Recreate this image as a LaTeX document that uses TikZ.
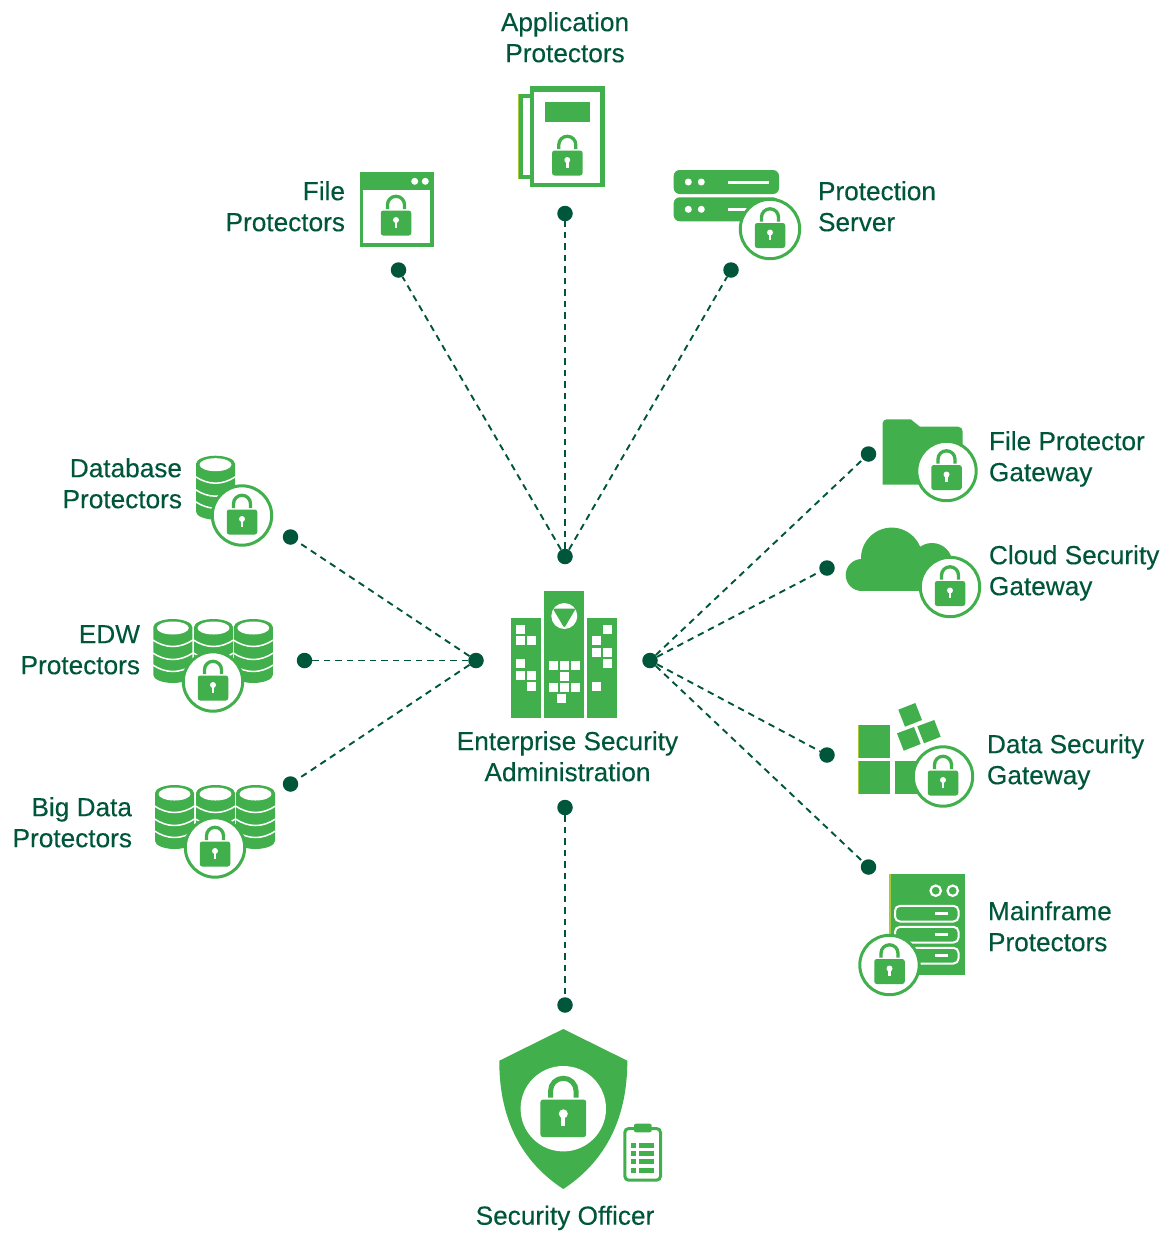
\documentclass[tikz,border=0pt]{standalone}
\usepackage{fontspec}
\setmainfont[FakeBold=0.25]{Liberation Sans}
\newcommand{\LL}[1]{\strut #1}
\definecolor{gr}{HTML}{41AF4B}
\definecolor{dk}{HTML}{00563A}
\definecolor{lime}{HTML}{A8C83A}
\tikzset{
  x=1pt,y=-1pt,
  dotnode/.style={circle,fill=dk,draw=none,minimum size=15.5pt,inner sep=0pt},
  conn/.style={draw=dk,line width=1.9pt,dash pattern=on 6.5pt off 5pt},
  lab/.style={text=dk,inner sep=0pt,outer sep=0pt,font=\fontsize{26.2}{31}\selectfont},
  labl/.style={lab,anchor=west,align=left},
  labr/.style={lab,anchor=east,align=right},
  labc/.style={lab,anchor=center,align=center},
  pics/padlock/.style={code={
    \fill[gr,rounded corners=2.5pt] (-15.25,-12.5) rectangle (15.25,12.5);
    \draw[gr,line width=#1] (-8.5,-13.8) -- (-8.5,-18.2) .. controls (-8.5,-23) and (-4.7,-26.7) .. (0,-26.7) .. controls (4.7,-26.7) and (8.5,-23) .. (8.5,-18.2) -- (8.5,-13.8);
    \fill[white] (0,-3) circle (3);
    \fill[white] (-1.3,-3) rectangle (1.3,4.8);
  }},
  pics/padlock/.default=3.3pt,
  pics/lockring/.style={code={
    \draw[gr,fill=white,line width=3pt] (0,0) circle (29.7);
    \pic at (0,6.5) {padlock};
  }},
  pics/cyl/.style={code={
    \fill[gr] (-19.5,8) -- (-19.5,56) .. controls (-19.5,60.5) and (-10,64) .. (0,64) .. controls (10,64) and (19.5,60.5) .. (19.5,56) -- (19.5,8) .. controls (19.5,3.5) and (10,0) .. (0,0) .. controls (-10,0) and (-19.5,3.5) .. (-19.5,8) -- cycle;
    \fill[white] (0,9) ellipse [x radius=16,y radius=6.5];
    \foreach \yy in {21,34,46}{
      \draw[white,line width=1.5pt] (-20,\yy) .. controls (-14,\yy+4) and (-7,\yy+6.5) .. (0,\yy+6.5) .. controls (7,\yy+6.5) and (14,\yy+4) .. (20,\yy);
    }
  }},
}
\begin{document}
\begin{tikzpicture}
\useasboundingbox (0,0) rectangle (1171,1235);

% ---------- connector end points
\node[dotnode] (tl) at (398.5,270) {};
\node[dotnode] (tc) at (565,213.5) {};
\node[dotnode] (tr) at (731,270) {};
\node[dotnode] (htop) at (565,556.5) {};
\node[dotnode] (ld) at (290.5,537) {};
\node[dotnode] (le) at (304.5,660.5) {};
\node[dotnode] (lb) at (290.5,784) {};
\node[dotnode] (hleft) at (476,660.5) {};
\node[dotnode] (rf) at (868.5,454) {};
\node[dotnode] (rc) at (827,568) {};
\node[dotnode] (rd) at (827,755) {};
\node[dotnode] (rm) at (868.5,867) {};
\node[dotnode] (hright) at (650,660.5) {};
\node[dotnode] (bt) at (565,807.5) {};
\node[dotnode] (bb) at (565,1005) {};

\draw[conn] (htop) -- (tl);
\draw[conn] (htop) -- (tc);
\draw[conn] (htop) -- (tr);
\draw[conn] (hleft) -- (ld);
\draw[conn] (hleft) -- (le);
\draw[conn] (hleft) -- (lb);
\draw[conn] (hright) -- (rf);
\draw[conn] (hright) -- (rc);
\draw[conn] (hright) -- (rd);
\draw[conn] (hright) -- (rm);
\draw[conn] (bt) -- (bb);

% ---------- labels
\node[labc] (lApp) at (565,40.5) {\LL{Application}\\\LL{Protectors}};
\node[labr] (lFile) at (345,209.5) {\LL{File}\\\LL{Protectors}};
\node[labl] (lSrv) at (818,209.5) {\LL{Protection}\\\LL{Server}};
\node[labr] (lDb) at (182,486.5) {\LL{Database}\\\LL{Protectors}};
\node[labr] (lEdw) at (140,652.5) {\LL{EDW}\\\LL{Protectors}};
\node[labr] (lBig) at (132,825.5) {\LL{Big Data}\\\LL{Protectors}};
\node[labc] (lEnt) at (567.5,759.5) {\LL{Enterprise Security}\\\LL{Administration}};
\node[labl] (lFpg) at (989,459.5) {\LL{File Protector}\\\LL{Gateway}};
\node[labl] (lCsg) at (989,573.5) {\LL{Cloud Security}\\\LL{Gateway}};
\node[labl] (lDsg) at (987,762.5) {\LL{Data Security}\\\LL{Gateway}};
\node[labl] (lMf) at (988,929.5) {\LL{Mainframe}\\\LL{Protectors}};
\node[labc] (lSo) at (565,1218.5) {\LL{Security Officer}};

% ---------- File Protectors icon
\fill[gr] (359.5,172) rectangle (434,247);
\fill[white] (363.3,190) rectangle (430,243.3);
\fill[white] (414.7,181.3) circle (3.5) (425.3,181.3) circle (3.5);
\pic at (396,223) {padlock};

% ---------- Application Protectors icon
\fill[gr] (518.3,94) rectangle (531,179);
\fill[white] (522.7,98) rectangle (531,174.7);
\fill[lime] (518.3,94) rectangle (519,179);
\fill[gr] (530,86) rectangle (605,187);
\fill[white] (534,91.7) rectangle (600,182.7);
\fill[gr] (545.3,102) rectangle (590,122);
\pic at (567.3,163) {padlock};

% ---------- Protection Server icon
\fill[gr,rounded corners=6pt] (673.7,170) rectangle (779,194);
\fill[gr,rounded corners=6pt] (673.7,197.3) rectangle (779,221.3);
\fill[white] (688.3,182) circle (3.5) (701.3,182) circle (3.5) (688.3,209.3) circle (3.5) (701.3,209.3) circle (3.5);
\fill[white] (728,180.5) rectangle (769,183.5);
\fill[white] (728,207.8) rectangle (769,210.8);
\pic at (770,229) {lockring};

% ---------- Database icons
\pic at (215.5,455.7) {cyl};
\pic at (242,515.5) {lockring};
\pic at (172.8,619) {cyl};
\pic at (253.3,619) {cyl};
\pic at (213.5,619) {cyl};
\pic at (213,681.5) {lockring};
\pic at (174.5,785) {cyl};
\pic at (255.5,785) {cyl};
\pic at (215.5,785) {cyl};
\pic at (215,847.5) {lockring};

% ---------- File Protector Gateway
\fill[gr] (882.7,484.7) -- (882.7,423) .. controls (882.7,421) and (884.7,419.3) .. (886.7,419.3) -- (910.7,419.3) -- (920,426.7) -- (958.3,426.7) .. controls (961,426.7) and (962.7,429) .. (962.7,431.7) -- (962.7,484.7) -- cycle;
\pic at (946.5,471) {lockring};

% ---------- Cloud Security Gateway
\fill[gr] (861.7,575) circle (16) (891.7,558.3) circle (30.7) (932,563.5) circle (20.5);
\fill[gr] (861.7,575) rectangle (950,591.3);
\pic at (950,587) {lockring};

% ---------- Data Security Gateway
\fill[gr] (858.3,725) rectangle (890,757.7);
\fill[gr] (858.3,761) rectangle (890,793.7);
\fill[gr] (895.3,761) rectangle (930,793.7);
\fill[gr] (898.3,709.7) -- (915.3,703) -- (922,720) -- (905,726.7) -- cycle;
\fill[gr] (897,733.3) -- (914,727) -- (920.7,744) -- (903.7,750.7) -- cycle;
\fill[gr] (917.3,726.3) -- (934.3,720) -- (940.7,736.7) -- (924,743.3) -- cycle;
\fill[lime] (858.3,725) rectangle (859,757.7);
\fill[lime] (858.3,761) rectangle (859,793.7);
\pic at (943,776.5) {lockring};

% ---------- Mainframe Protectors
\fill[gr] (889.3,874) rectangle (965,974.7);
\fill[lime] (889.3,874) rectangle (890.6,974.7);
\draw[white,line width=2.2pt] (935.7,890.7) circle (5.2) (952.7,890.7) circle (5.2);
\draw[white,line width=2pt,rounded corners=5pt] (895,905.8) rectangle (958.5,921.5);
\draw[white,line width=2pt,rounded corners=5pt] (895,926.8) rectangle (958.5,942.5);
\draw[white,line width=2pt,rounded corners=5pt] (895,947.8) rectangle (958.5,963.5);
\fill[white] (935,912.2) rectangle (948.3,915.2);
\fill[white] (935,932.8) rectangle (948.3,935.8);
\fill[white] (935,953.8) rectangle (948.3,956.8);
\pic at (889.5,965) {lockring};

% ---------- Enterprise Security building
\fill[gr] (511,618) rectangle (541,718);
\fill[gr] (544,591) rectangle (584,718);
\fill[gr] (587,618) rectangle (617,718);
\foreach \wx/\wy in {516/625,516/636,527/636,516/659,516/671,527/671,527/682,
                     603/625,592/636,592/648,603/648,603/659,592/682,
                     549/661,560/661,571/661,560/672,549/683,560/683,571/683,557/694}{
  \fill[white] (\wx,\wy) rectangle ++(9,9);
}
\fill[white] (564.3,616) circle (13);
\fill[gr,rounded corners=2pt] (552.8,608.5) -- (575.8,608.5) -- (564.3,628) -- cycle;

% ---------- Security Officer shield
\fill[gr] (563.3,1029) -- (627.3,1060.7) .. controls (627.5,1125) and (600,1165) .. (563.3,1189) .. controls (526.5,1165) and (499,1125) .. (499.3,1060.7) -- cycle;
\fill[white] (563.3,1108.7) circle (42.7);
\pic[scale=1.5] at (563.3,1118.3) {padlock=5pt};

% ---------- Clipboard
\draw[gr,line width=3pt,rounded corners=4pt] (624.8,1128.5) rectangle (660.5,1180.2);
\fill[gr,rounded corners=2pt] (634,1123.7) rectangle (651.7,1132.3);
\foreach \ry in {1143,1151,1158.7,1168}{
  \fill[gr] (631,\ry) rectangle (636.3,\ry+5);
  \fill[gr] (639,\ry) rectangle (654,\ry+5);
}
\end{tikzpicture}
\end{document}
